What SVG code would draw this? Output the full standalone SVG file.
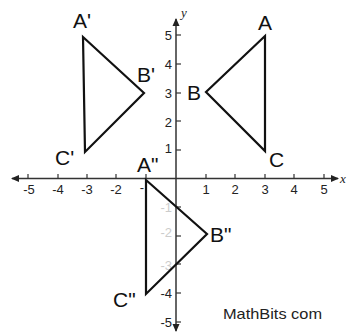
<svg xmlns="http://www.w3.org/2000/svg" width="347" height="333" viewBox="0 0 347 333">
<style>
.axis{stroke:#333;stroke-width:1.5;fill:none}
.tick{stroke:#333;stroke-width:1.2}
.tri{stroke:#111;stroke-width:2.2;fill:none;stroke-linejoin:miter}
.lbl{font-family:"Liberation Sans",Arial,sans-serif;font-size:21px;fill:#111}
.num{font-family:"Liberation Sans",Arial,sans-serif;font-size:13px;fill:#222}
.faint{fill:#ccc}
.ax{font-family:"Liberation Serif",serif;font-style:italic;font-size:13px;fill:#222}
</style>
<defs>
<marker id="ah" markerWidth="8" markerHeight="8" refX="7" refY="4" orient="auto" markerUnits="userSpaceOnUse">
<path d="M0,0.5 L8,4 L0,7.5 Z" fill="#222"/>
</marker>
</defs>
<rect width="347" height="333" fill="#fff"/>
<g id="connectors">
<line class="axis" x1="176" y1="178.5" x2="12" y2="178.5" marker-end="url(#ah)"/>
<line class="axis" x1="176" y1="178.5" x2="338" y2="178.5" marker-end="url(#ah)"/>
<line class="axis" x1="176" y1="178.5" x2="176" y2="19" marker-end="url(#ah)"/>
<line class="axis" x1="176" y1="178.5" x2="176" y2="331" marker-end="url(#ah)"/>
<g class="tick">
<line x1="28" y1="174" x2="28" y2="178.5"/>
<line x1="58" y1="174" x2="58" y2="178.5"/>
<line x1="87" y1="174" x2="87" y2="178.5"/>
<line x1="116" y1="174" x2="116" y2="178.5"/>
<line x1="146" y1="174" x2="146" y2="178.5"/>
<line x1="206" y1="174" x2="206" y2="178.5"/>
<line x1="235" y1="174" x2="235" y2="178.5"/>
<line x1="265" y1="174" x2="265" y2="178.5"/>
<line x1="294" y1="174" x2="294" y2="178.5"/>
<line x1="324" y1="174" x2="324" y2="178.5"/>
<line x1="176" y1="35" x2="181" y2="35"/>
<line x1="176" y1="64" x2="181" y2="64"/>
<line x1="176" y1="93" x2="181" y2="93"/>
<line x1="176" y1="121" x2="181" y2="121"/>
<line x1="176" y1="150" x2="181" y2="150"/>
<line x1="176" y1="207" x2="181" y2="207"/>
<line x1="176" y1="236" x2="181" y2="236"/>
<line x1="176" y1="264" x2="181" y2="264"/>
<line x1="176" y1="293" x2="181" y2="293"/>
<line x1="176" y1="322" x2="181" y2="322"/>
</g>
</g>
<g id="axis-labels">
<text class="num" x="29" y="194" text-anchor="middle">-5</text>
<text class="num" x="58" y="194" text-anchor="middle">-4</text>
<text class="num" x="87" y="194" text-anchor="middle">-3</text>
<text class="num" x="116" y="194" text-anchor="middle">-2</text>
<text class="num" x="142" y="192" text-anchor="middle">-</text>
<text class="num" x="206" y="194" text-anchor="middle">1</text>
<text class="num" x="235" y="194" text-anchor="middle">2</text>
<text class="num" x="265" y="194" text-anchor="middle">3</text>
<text class="num" x="294" y="194" text-anchor="middle">4</text>
<text class="num" x="324" y="194" text-anchor="middle">5</text>
<text class="num" x="172" y="40" text-anchor="end">5</text>
<text class="num" x="172" y="69" text-anchor="end">4</text>
<text class="num" x="172" y="98" text-anchor="end">3</text>
<text class="num" x="172" y="127" text-anchor="end">2</text>
<text class="num" x="172" y="153" text-anchor="end">1</text>
<text class="num faint" x="172" y="212" text-anchor="end">-1</text>
<text class="num faint" x="172" y="237" text-anchor="end">-2</text>
<text class="num faint" x="172" y="270" text-anchor="end">-3</text>
<text class="num" x="172" y="298" text-anchor="end">-4</text>
<text class="num" x="172" y="327" text-anchor="end">-5</text>
<text class="ax" x="181" y="17">y</text>
<text class="ax" x="340" y="183">x</text>
</g>
<g id="triangle-ABC">
<polygon class="tri" points="265,36 206,92 265,151"/>
<text class="lbl" x="258" y="30">A</text>
<text class="lbl" x="187" y="100">B</text>
<text class="lbl" x="269" y="167">C</text>
</g>
<g id="triangle-A1B1C1">
<polygon class="tri" points="83,37 144,93 85,152"/>
<text class="lbl" x="73" y="28">A'</text>
<text class="lbl" x="137" y="82">B'</text>
<text class="lbl" x="55" y="165">C'</text>
</g>
<g id="triangle-A2B2C2">
<polygon class="tri" points="146,180 207,234 146,294"/>
<text class="lbl" x="137" y="172">A"</text>
<text class="lbl" x="210" y="242">B"</text>
<text class="lbl" x="113" y="307">C"</text>
</g>
<text x="223" y="319" font-family="Liberation Sans,Arial,sans-serif" font-size="15" fill="#222" textLength="99" lengthAdjust="spacingAndGlyphs">MathBits com</text>
</svg>
